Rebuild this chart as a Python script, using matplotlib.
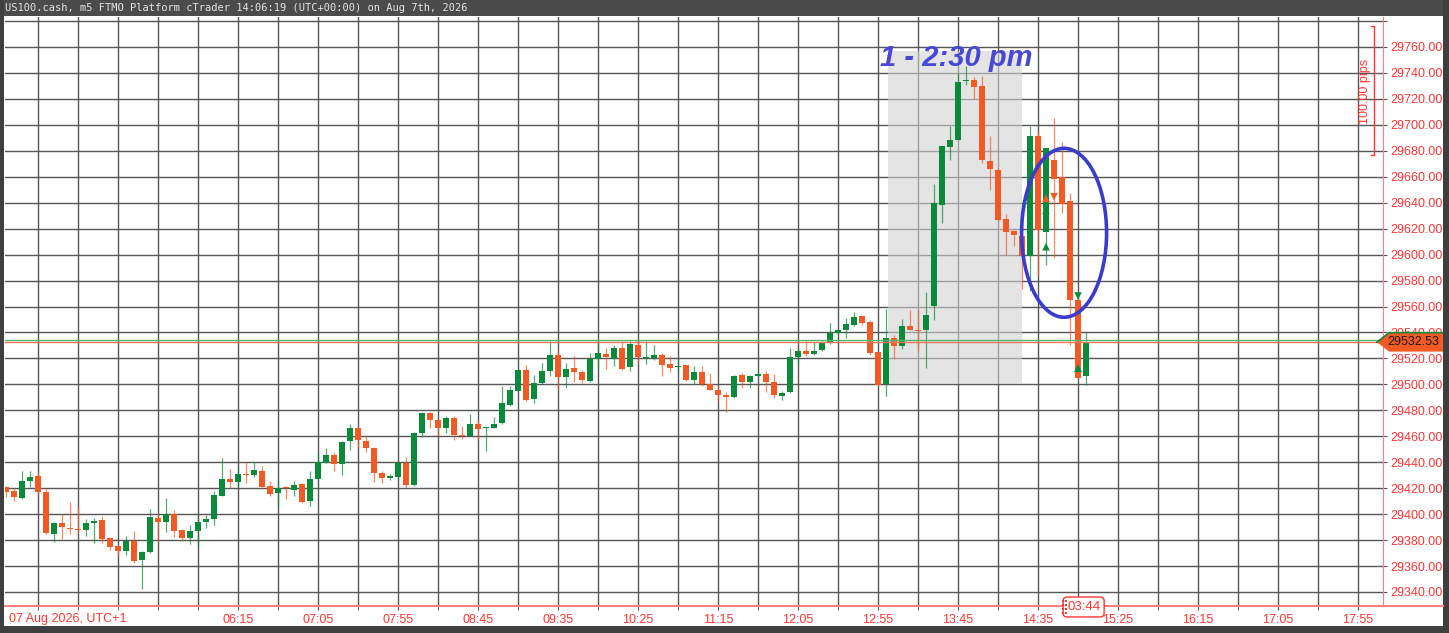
import numpy as np
import matplotlib
matplotlib.use("Agg")
import matplotlib.pyplot as plt
from matplotlib.patches import Rectangle, Ellipse, Polygon
from matplotlib.ticker import MultipleLocator, FixedLocator

plt.rcParams['font.family'] = ['Liberation Sans', 'DejaVu Sans']

# m5 bars, first bar 03:50 (minutes after midnight, UTC+1)
start_min = 230
bar_min = 5

opens = [29420.7, 29417.7, 29412.3, 29425.4, 29429.2, 29417.4, 29384.8, 29393.5, 29389.4, 29388.9,
         29387.9, 29393.0, 29395.3, 29381.4, 29375.8, 29371.2, 29379.4, 29364.4, 29370.6, 29397.1,
         29393.8, 29400.0, 29387.9, 29381.6, 29387.1, 29394.0, 29396.3, 29414.3, 29427.4, 29424.6,
         29431.3, 29430.2, 29433.6, 29422.0, 29416.0, 29420.7, 29418.9, 29423.3, 29410.5, 29427.2,
         29439.2, 29445.9, 29438.4, 29456.6, 29466.6, 29456.6, 29451.2, 29431.5, 29427.6, 29428.8,
         29439.2, 29422.5, 29462.4, 29477.8, 29472.7, 29466.3, 29474.0, 29461.1, 29459.9, 29469.4,
         29466.0, 29466.3, 29470.1, 29484.3, 29494.5, 29511.2, 29488.6, 29501.0, 29510.0, 29522.3,
         29505.6, 29512.5, 29509.4, 29502.8, 29519.5, 29523.6, 29519.7, 29527.9, 29513.3, 29530.5,
         29520.0, 29520.0, 29522.8, 29515.9, 29513.0, 29514.6, 29503.5, 29509.2, 29500.2, 29495.8,
         29492.0, 29490.2, 29507.4, 29501.5, 29506.1, 29508.1, 29502.2, 29491.2, 29493.8, 29521.0,
         29525.4, 29523.6, 29526.1, 29531.8, 29539.5, 29542.0, 29546.0, 29552.5, 29548.0, 29525.0,
         29500.6, 29535.8, 29529.9, 29544.8, 29542.2, 29541.7, 29560.7, 29638.5, 29683.0, 29688.1,
         29733.6, 29734.9, 29729.7, 29671.9, 29665.5, 29627.5, 29618.0, 29614.6, 29598.7, 29691.7,
         29617.2, 29672.7, 29659.9, 29641.1, 29565.3, 29506.2]
highs = [29422.0, 29420.0, 29433.6, 29433.0, 29432.3, 29420.0, 29393.8, 29400.0, 29409.0, 29406.6,
         29396.3, 29397.0, 29398.4, 29382.0, 29376.3, 29383.5, 29387.3, 29371.2, 29404.0, 29400.0,
         29412.3, 29403.0, 29388.6, 29391.7, 29398.4, 29399.7, 29418.2, 29443.3, 29434.9, 29436.1,
         29440.5, 29440.5, 29437.0, 29425.6, 29426.1, 29422.0, 29425.4, 29423.8, 29433.6, 29446.4,
         29450.8, 29447.7, 29456.5, 29469.5, 29468.0, 29460.2, 29452.0, 29433.5, 29431.0, 29439.9,
         29443.8, 29463.5, 29478.4, 29478.4, 29473.2, 29475.3, 29475.3, 29468.1, 29477.1, 29472.7,
         29467.3, 29474.8, 29498.9, 29498.9, 29511.2, 29515.1, 29507.4, 29516.4, 29533.8, 29526.1,
         29516.4, 29521.5, 29510.7, 29524.1, 29533.8, 29527.9, 29530.5, 29533.8, 29533.8, 29533.8,
         29533.8, 29530.5, 29524.1, 29521.5, 29519.5, 29515.1, 29513.8, 29513.8, 29508.7, 29498.4,
         29493.8, 29507.4, 29508.7, 29507.4, 29511.2, 29510.0, 29508.1, 29494.5, 29527.9, 29527.9,
         29534.3, 29532.3, 29533.1, 29547.2, 29543.3, 29551.2, 29555.6, 29553.0, 29549.9, 29525.5,
         29558.1, 29538.4, 29550.4, 29557.6, 29557.6, 29571.0, 29654.7, 29684.0, 29699.4, 29740.0,
         29745.1, 29736.7, 29737.4, 29691.2, 29666.8, 29631.6, 29619.3, 29615.4, 29699.4, 29696.3,
         29682.2, 29705.3, 29686.6, 29647.5, 29566.6, 29540.2]
lows = [29413.0, 29410.5, 29411.7, 29420.7, 29414.8, 29384.8, 29378.4, 29381.0, 29384.8, 29385.5,
        29383.5, 29377.8, 29377.8, 29372.0, 29366.8, 29368.6, 29362.4, 29342.4, 29370.1, 29378.4,
        29386.6, 29382.0, 29379.1, 29377.0, 29375.3, 29389.1, 29391.7, 29413.8, 29420.2, 29422.0,
        29424.0, 29428.4, 29420.7, 29413.8, 29406.6, 29411.7, 29414.3, 29408.7, 29406.6, 29426.6,
        29439.2, 29433.6, 29430.2, 29449.4, 29450.7, 29448.1, 29425.0, 29423.8, 29426.3, 29426.3,
        29419.9, 29422.0, 29459.3, 29466.3, 29460.4, 29462.4, 29456.8, 29457.8, 29459.9, 29456.8,
        29448.8, 29466.3, 29469.6, 29483.0, 29494.5, 29486.8, 29485.5, 29500.4, 29506.6, 29495.3,
        29497.1, 29502.2, 29501.0, 29502.2, 29512.5, 29511.7, 29513.8, 29511.2, 29510.0, 29516.4,
        29515.9, 29519.0, 29506.6, 29509.2, 29509.2, 29502.8, 29500.2, 29498.4, 29495.3, 29486.8,
        29478.4, 29489.4, 29497.1, 29497.1, 29505.6, 29493.8, 29489.4, 29488.1, 29493.2, 29515.9,
        29521.5, 29522.8, 29525.4, 29531.3, 29539.0, 29535.8, 29544.8, 29546.0, 29523.0, 29498.5,
        29491.4, 29519.6, 29527.3, 29541.7, 29525.5, 29512.7, 29549.9, 29624.4, 29672.7, 29688.1,
        29731.0, 29720.0, 29670.6, 29650.1, 29625.7, 29600.0, 29606.4, 29573.5, 29571.8, 29584.6,
        29592.3, 29597.4, 29632.1, 29530.6, 29505.0, 29499.8]
closes = [29417.4, 29413.0, 29425.4, 29428.7, 29416.9, 29385.3, 29393.5, 29390.4, 29388.4, 29387.9,
          29393.0, 29394.8, 29380.9, 29375.0, 29371.2, 29379.4, 29364.2, 29370.6, 29397.9, 29394.0,
          29400.0, 29387.3, 29381.4, 29387.3, 29394.3, 29396.0, 29415.1, 29427.4, 29424.6, 29431.3,
          29430.0, 29434.1, 29420.7, 29415.3, 29420.5, 29420.0, 29422.8, 29409.2, 29427.2, 29440.0,
          29445.9, 29438.7, 29455.4, 29466.6, 29457.1, 29451.2, 29431.5, 29428.1, 29429.2, 29439.2,
          29422.5, 29462.3, 29477.8, 29472.2, 29466.3, 29474.0, 29461.1, 29459.9, 29469.4, 29465.8,
          29467.3, 29469.6, 29485.5, 29495.3, 29510.7, 29488.1, 29501.0, 29510.0, 29522.3, 29505.6,
          29512.0, 29509.2, 29503.5, 29519.5, 29524.1, 29521.0, 29527.9, 29511.7, 29531.0, 29521.0,
          29520.7, 29522.8, 29514.6, 29512.5, 29514.3, 29503.5, 29509.2, 29500.2, 29495.8, 29492.0,
          29490.2, 29506.6, 29501.7, 29506.1, 29508.1, 29502.2, 29492.0, 29493.2, 29521.0, 29525.4,
          29523.6, 29525.9, 29531.8, 29539.5, 29542.0, 29546.8, 29552.0, 29547.3, 29524.2, 29499.8,
          29535.8, 29529.9, 29545.3, 29541.7, 29541.0, 29553.8, 29639.8, 29683.5, 29688.1, 29732.8,
          29734.9, 29729.0, 29672.7, 29666.3, 29627.0, 29617.5, 29614.9, 29598.7, 29691.7, 29619.3,
          29682.2, 29658.3, 29639.3, 29565.3, 29505.0, 29532.53]

bid = 29532.53
ask = 29534.5

# trade arrows (minutes, price, kind)
buy_t = [880, 880, 900, 900]
buy_p = [29643.4, 29606.1, 29512.4, 29512.4]
buy_c = ['#f15a24', '#0a8a3a', '#0a8a3a', '#0a8a3a']
sell_t = [880, 885, 900]
sell_p = [29629.2, 29644.6, 29568.1]
sell_c = ['#0a8a3a', '#f15a24', '#0a8a3a']

session_start, session_end = 781.5, 865.0
session_low, session_high = 29500, 29757

price_ticks = list(range(29340, 29781, 20))
time_labels = ['06:15', '07:05', '07:55', '08:45', '09:35', '10:25', '11:15', '12:05',
               '12:55', '13:45', '14:35', '15:25', '16:15', '17:05', '17:55']

GREEN = '#0a8a3a'
ORANGE = '#f15a24'
RED_TXT = '#ff3535'
RED_LINE = '#ff8080'

times = start_min + bar_min * np.arange(len(opens))
opens = np.array(opens); closes = np.array(closes)
highs = np.array(highs); lows = np.array(lows)
up = closes >= opens
cols = np.where(up, GREEN, ORANGE)

fig = plt.figure(figsize=(14.49, 6.33), dpi=100)
ax = fig.add_axes([5 / 1449, 27 / 633, 1378 / 1449, 589 / 633])
ax.set_xlim(229.4, 1090.6)
ax.set_ylim(29329.2, 29783.1)

# grid
ax.xaxis.set_major_locator(FixedLocator([375 + 50 * i for i in range(15)]))
ax.xaxis.set_minor_locator(MultipleLocator(25))
ax.set_xticklabels(time_labels)
ax.yaxis.set_major_locator(FixedLocator(price_ticks))
ax.set_yticklabels(['%.2f' % p if p < 29780 else '' for p in price_ticks])
ax.grid(True, which='both', color='#555555', lw=1.0, zorder=0)
ax.set_axisbelow(True)
ax.yaxis.tick_right()
ax.tick_params(axis='y', which='both', colors='#555555', labelcolor=RED_TXT, labelsize=9, length=3, pad=2)
ax.tick_params(axis='x', which='both', colors='#555555', labelcolor=RED_TXT, labelsize=9, length=3, pad=3)
for s in ['left', 'top']:
    ax.spines[s].set_visible(False)
ax.spines['right'].set_color(RED_LINE)
ax.spines['bottom'].set_color(RED_LINE)
ax.spines['bottom'].set_linewidth(1.5)

# 1 - 2:30 pm box
ax.add_patch(Rectangle((session_start, session_low), session_end - session_start,
                       session_high - session_low, fc='#d2d2d2', alpha=0.6, lw=0, zorder=1))

# candles
ax.vlines(times, lows, highs, colors=cols, lw=0.9, alpha=0.7, zorder=3)
body_h = np.maximum(np.abs(closes - opens), 0.9)
body_b = np.minimum(opens, closes)
ax.bar(times, body_h, bottom=body_b, width=3.2, color=cols, lw=0, zorder=4)

# bid / ask lines
ax.axhline(ask, color='#52b872', lw=1.0, zorder=5)
ax.axhline(bid, color='#f07a5a', lw=1.0, zorder=5)

# trade markers
ax.scatter(buy_t, buy_p, marker='^', s=30, c=buy_c, lw=0, zorder=6)
ax.scatter(sell_t, sell_p, marker='v', s=30, c=sell_c, lw=0, zorder=6)

ax.add_patch(Ellipse((891.3, 29616.8), 53.1, 130.2, fill=False, ec='#3b3bcc', lw=2.6, zorder=7))
ax.text(823.8, 29751.5, '1 - 2:30 pm', color='#4848d4', fontsize=21, fontweight='bold',
        fontstyle='italic', ha='center', va='center', zorder=8)

# price label on the right axis
ytr = ax.get_yaxis_transform()
hh = 7.3
lab = Polygon([(0.9956, bid), (1.0044, bid + hh), (1.0435, bid + hh), (1.0435, bid - hh),
               (1.0044, bid - hh)], closed=True, transform=ytr, fc=ORANGE, ec='none',
              clip_on=False, zorder=9)
ax.add_patch(lab)
ax.plot([0.9956, 1.0044, 1.0435], [bid, bid + hh, bid + hh], transform=ytr, color=GREEN,
        lw=1.2, clip_on=False, zorder=10)
ax.text(1.0218, bid, '%.2f' % bid, transform=ytr, ha='center', va='center', fontsize=9,
        color='#1a1a1a', clip_on=False, zorder=11)

# 100 pips ruler
ax.plot([0.9911, 0.9935, 0.9935, 0.9911], [29776.4, 29776.4, 29676.8, 29676.8],
        transform=ytr, color=RED_TXT, lw=1.0, zorder=8)
ax.text(0.9869, 29726.1, '100.00 pips', transform=ytr, rotation=90, ha='center',
        va='center', fontsize=9, color=RED_TXT, zorder=8)

# bottom labels
xtr = ax.get_xaxis_transform()
ax.text(4 / 1378, -13 / 589, '07 Aug 2026, UTC+1', transform=ax.transAxes, ha='left',
        va='center', fontsize=9, color=RED_TXT)
ax.text(times[-1] - 1.5, -1 / 589, '03:44', transform=xtr, ha='center', va='center',
        fontsize=9.5, color=RED_TXT, clip_on=False, zorder=12,
        bbox=dict(boxstyle='round,pad=0.3,rounding_size=0.3', fc='white', ec=RED_TXT, lw=1.0))
gx = [times[-1] - 14.2, times[-1] - 12.6] * 4
gy = [(-1 + d) / 589 for d in [6, 6, 2, 2, -2, -2, -6, -6]]
ax.scatter(gx, gy, transform=xtr, marker='s', s=1.5, c=RED_TXT, lw=0, clip_on=False, zorder=13)

# window chrome
fig.patches.append(Rectangle((0, 1 - 16 / 633), 1, 16 / 633, transform=fig.transFigure,
                             fc='#4b4b4b', lw=0, zorder=0))
fig.patches.append(Rectangle((0, 0), 4 / 1449, 1, transform=fig.transFigure, fc='#3f3f3f', lw=0))
fig.patches.append(Rectangle((1443 / 1449, 0), 6 / 1449, 1, transform=fig.transFigure, fc='#3f3f3f', lw=0))
fig.patches.append(Rectangle((0, 0), 1, 7 / 633, transform=fig.transFigure, fc='#3f3f3f', lw=0))
fig.lines.append(plt.Line2D([1383 / 1449, 1443 / 1449], [27 / 633, 27 / 633],
                            transform=fig.transFigure, color=RED_LINE, lw=1.5))
fig.text(5 / 1449, 1 - 8 / 633, 'US100.cash, m5 FTMO Platform cTrader 14:06:19 (UTC+00:00) on Aug 7th, 2026',
         family='DejaVu Sans Mono', fontsize=7.5, color='#e4e4e4', va='center', ha='left')

fig.savefig('out.png', dpi=100)
